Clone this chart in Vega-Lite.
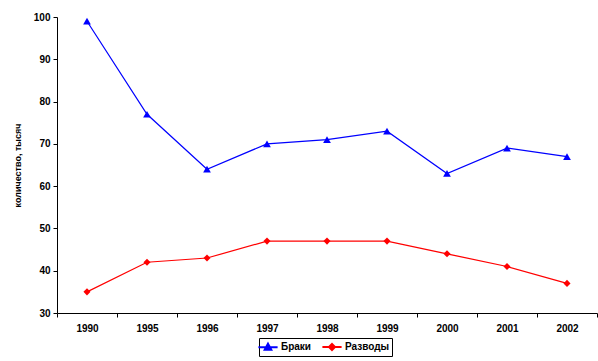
{
  "$schema": "https://vega.github.io/schema/vega-lite/v6.json",
  "width": 540,
  "height": 296,
  "autosize": {"type": "none"},
  "padding": {"left": 57, "top": 17, "right": 1, "bottom": 48},
  "background": "white",
  "config": {
    "view": {"stroke": null},
    "font": "Liberation Sans",
    "axis": {"labelFont": "Liberation Sans", "labelFontWeight": "bold", "labelFontSize": 10, "labelColor": "black", "domainColor": "black", "tickColor": "black", "grid": false, "titleFont": "Liberation Sans"}
  },
  "data": {"values": [
    {"year": "1990", "series": "Браки", "value": 99},
    {"year": "1995", "series": "Браки", "value": 77},
    {"year": "1996", "series": "Браки", "value": 64},
    {"year": "1997", "series": "Браки", "value": 70},
    {"year": "1998", "series": "Браки", "value": 71},
    {"year": "1999", "series": "Браки", "value": 73},
    {"year": "2000", "series": "Браки", "value": 63},
    {"year": "2001", "series": "Браки", "value": 69},
    {"year": "2002", "series": "Браки", "value": 67},
    {"year": "1990", "series": "Разводы", "value": 35},
    {"year": "1995", "series": "Разводы", "value": 42},
    {"year": "1996", "series": "Разводы", "value": 43},
    {"year": "1997", "series": "Разводы", "value": 47},
    {"year": "1998", "series": "Разводы", "value": 47},
    {"year": "1999", "series": "Разводы", "value": 47},
    {"year": "2000", "series": "Разводы", "value": 44},
    {"year": "2001", "series": "Разводы", "value": 41},
    {"year": "2002", "series": "Разводы", "value": 37}
  ]},
  "encoding": {
    "x": {"field": "year", "type": "ordinal", "scale": {"type": "band", "paddingInner": 0, "paddingOuter": 0},
      "axis": {"title": null, "labelAngle": 0, "tickBand": "extent", "tickSize": 4, "labelPadding": 6, "domainWidth": 1}},
    "y": {"field": "value", "type": "quantitative", "scale": {"domain": [30, 100], "nice": false, "zero": false},
      "axis": {"title": "количество, тысяч", "titleFontSize": 9, "titleFontWeight": "bold", "titleColor": "black", "titlePadding": 11, "values": [30, 40, 50, 60, 70, 80, 90, 100], "tickSize": 4, "labelPadding": 3}},
    "color": {"field": "series", "type": "nominal", "scale": {"domain": ["Браки", "Разводы"], "range": ["#0000FF", "#FF0000"]}}
  },
  "layer": [
    {"mark": {"type": "line", "strokeWidth": 1.2},
     "encoding": {"color": {"field": "series", "type": "nominal", "legend": {
       "orient": "none", "legendX": 202, "legendY": 321, "direction": "horizontal", "title": null,
       "strokeColor": "black", "padding": 2, "labelFontSize": 10, "labelFontWeight": "bold", "labelColor": "black", "labelFont": "Liberation Sans",
       "symbolSize": 144, "symbolStrokeWidth": 2, "columnPadding": 6, "labelOffset": 6,
       "encode": {"symbols": {"update": {
         "shape": {"signal": "datum.value === 'Браки' ? 'M-1.6,0H1.6M0,-0.6L0.55,0.4L-0.55,0.4Z' : 'M-1.6,0H1.6M0,-0.5L0.5,0L0,0.5L-0.5,0Z'"},
         "fill": {"signal": "datum.value === 'Браки' ? '#0000FF' : '#FF0000'"},
         "stroke": {"signal": "datum.value === 'Браки' ? '#0000FF' : '#FF0000'"}
       }}}
     }}}},
    {"transform": [{"filter": "datum.series === 'Браки'"}],
     "mark": {"type": "point", "filled": true, "opacity": 1, "size": 60, "shape": "triangle-up"}},
    {"transform": [{"filter": "datum.series === 'Разводы'"}],
     "mark": {"type": "point", "filled": true, "opacity": 1, "size": 50, "shape": "diamond"}}
  ]
}
